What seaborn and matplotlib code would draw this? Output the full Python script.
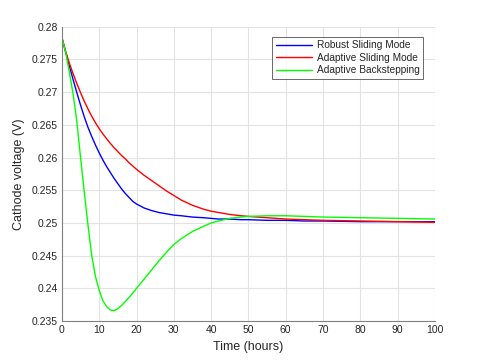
import matplotlib
matplotlib.use("Agg")
import matplotlib.pyplot as plt
import seaborn as sns
import pandas as pd

time_h = [0, 1, 2, 3, 4, 5, 6, 7, 8, 9, 10, 11, 12, 13, 14, 15, 16, 17, 18, 19, 20,
          22, 24, 26, 28, 30, 32, 35, 38, 40, 42, 45, 48, 50, 55, 60, 65, 70, 80, 90, 100]

robust_sm = [0.2783, 0.2761, 0.2740, 0.2719, 0.2699, 0.2680, 0.2662, 0.2646, 0.2632, 0.2619,
             0.2607, 0.2596, 0.2586, 0.2577, 0.2568, 0.2560, 0.2552, 0.2545, 0.2539, 0.2533,
             0.2529, 0.2523, 0.2519, 0.2516, 0.2514, 0.2512, 0.2511, 0.2509, 0.2508, 0.2507,
             0.2506, 0.2506, 0.2505, 0.2505, 0.2504, 0.2504, 0.2503, 0.2503, 0.2502, 0.2502, 0.2502]

adaptive_sm = [0.2783, 0.2762, 0.2744, 0.2728, 0.2713, 0.2699, 0.2686, 0.2674, 0.2663, 0.2653,
               0.2644, 0.2636, 0.26285, 0.26215, 0.2615, 0.2609, 0.2603, 0.2598, 0.2592, 0.2587,
               0.2582, 0.2573, 0.2565, 0.2557, 0.2549, 0.2542, 0.2535, 0.2527, 0.2521, 0.2518,
               0.2516, 0.2513, 0.2511, 0.2510, 0.2508, 0.2506, 0.2505, 0.2504, 0.2503, 0.2502, 0.2501]

adaptive_bs = [0.2783, 0.2761, 0.2730, 0.2697, 0.2655, 0.2600, 0.2547, 0.2496, 0.2450, 0.2418,
               0.2397, 0.2381, 0.2372, 0.2367, 0.2366, 0.2369, 0.2374, 0.2380, 0.2386, 0.2393,
               0.2400, 0.2414, 0.2428, 0.2442, 0.2455, 0.2467, 0.2476, 0.2487, 0.2495, 0.2500,
               0.2503, 0.2507, 0.2509, 0.2510, 0.2511, 0.2511, 0.2510, 0.2509, 0.2508, 0.2507, 0.2506]

series_names = ["Robust Sliding Mode", "Adaptive Sliding Mode", "Adaptive Backstepping"]
colors = ["#0000ff", "#ff0000", "#00ff00"]

df = pd.concat([
    pd.DataFrame({"t": time_h, "v": vals, "s": name})
    for name, vals in zip(series_names, [robust_sm, adaptive_sm, adaptive_bs])
])

sns.set_style("white")
plt.rcParams["font.family"] = ["Liberation Sans", "DejaVu Sans"]

fig = plt.figure(figsize=(4.8, 3.6), dpi=100)
ax = fig.add_axes([0.129, 0.108, 0.777, 0.818])

sns.lineplot(data=df, x="t", y="v", hue="s", palette=dict(zip(series_names, colors)),
             hue_order=series_names, linewidth=1.0, ax=ax, sort=False)

ax.set_xlim(0, 100)
ax.set_ylim(0.235, 0.28)
ax.set_xticks(range(0, 101, 10))
yt = [0.235, 0.24, 0.245, 0.25, 0.255, 0.26, 0.265, 0.27, 0.275, 0.28]
ax.set_yticks(yt)
ax.set_yticklabels(["0.235", "0.24", "0.245", "0.25", "0.255", "0.26", "0.265", "0.27", "0.275", "0.28"])
ax.grid(True, color="#e3e3e3", linewidth=0.8)
ax.set_axisbelow(True)
for side in ["top", "right"]:
    ax.spines[side].set_visible(False)
for side in ["left", "bottom"]:
    ax.spines[side].set_color("#808080")
    ax.spines[side].set_linewidth(0.8)
ax.tick_params(direction="in", length=3, width=0.6, color="#808080",
               labelsize=7.5, labelcolor="#262626", pad=3)
ax.set_xlabel("Time (hours)", fontsize=9, color="#262626", labelpad=4)
ax.set_ylabel("Cathode voltage (V)", fontsize=9, color="#262626", labelpad=5)

leg = ax.legend(loc="upper right", bbox_to_anchor=(0.968, 0.966), borderaxespad=0,
                fontsize=7.3, frameon=True, fancybox=False, edgecolor="#262626",
                handlelength=3.6, handletextpad=0.4, borderpad=0.35, labelspacing=0.25,
                title=None)
leg.get_frame().set_linewidth(0.6)
for line in leg.get_lines():
    line.set_linewidth(1.0)

fig.savefig("out.png", dpi=100)
